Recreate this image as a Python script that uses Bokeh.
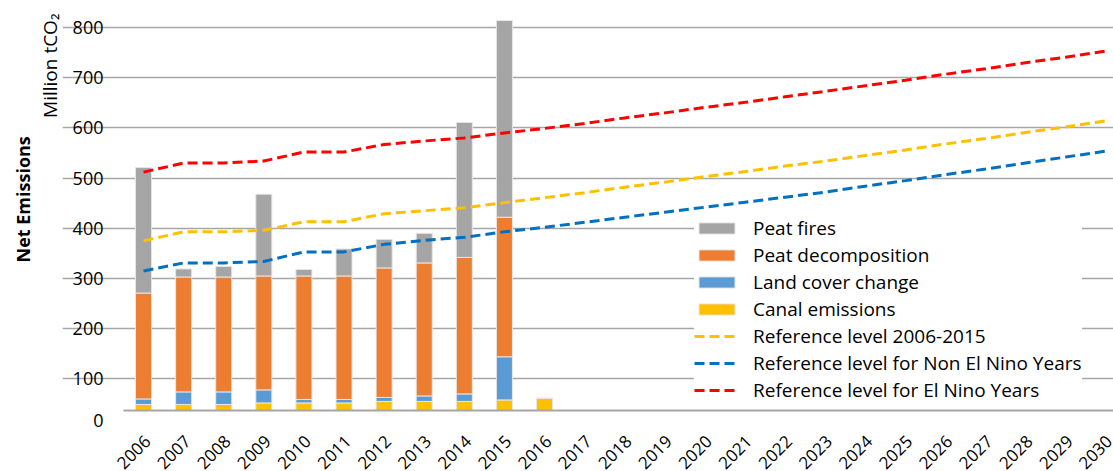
import math
from bokeh.plotting import figure
from bokeh.models import (FixedTicker, Legend, LegendItem, Range1d, Title,
                          ColumnDataSource, NumeralTickFormatter)
from bokeh.embed import file_html
from bokeh.resources import INLINE

# ---------------- data ----------------
bar_years = [2006, 2007, 2008, 2009, 2010, 2011, 2012, 2013, 2014, 2015, 2016]
canal_emissions = [49, 49, 49, 52, 52, 52, 55, 55, 55, 58, 61]
land_cover_change = [11, 25, 25, 26, 7, 7, 8, 11, 15, 86, 0]
peat_decomposition = [211, 229, 229, 227, 246, 246, 258, 265, 272, 278, 0]
peat_fires = [250, 16, 21, 163, 13, 54, 57, 59, 269, 392, 0]

line_years = [2006, 2007, 2008, 2009, 2010, 2011, 2012, 2013, 2014, 2015,
              2016, 2017, 2018, 2019, 2020, 2021, 2022, 2023, 2024, 2025,
              2026, 2027, 2028, 2029, 2030]
ref_2006_2015 = [375, 393, 393, 396, 413, 413, 429, 435, 441, 451,
                 461, 471, 482, 492, 503, 513, 524, 534, 545, 556,
                 568, 579, 591, 602, 614]
ref_non_el_nino = [315, 331, 331, 334, 353, 353, 368, 376, 382, 393,
                   402, 412, 422, 432, 442, 452, 462, 472, 484, 495,
                   507, 518, 530, 542, 554]
ref_el_nino = [512, 530, 530, 534, 552, 552, 567, 574, 580, 590,
               599, 609, 620, 630, 641, 651, 662, 673, 684, 695,
               707, 718, 730, 741, 753]

axis_base = 37          # value where the category axis sits
zero_tick = 18          # where the "0" label is printed
y_ticks = [100, 200, 300, 400, 500, 600, 700, 800]
x_start, x_end = 2005.5, 2030.19
label_shift = 0.1       # nudge of the rotated year labels

FONT = "Open Sans"
GRID = "#A6A6A6"

p = figure(width=1113, height=471, output_backend="svg", toolbar_location=None,
           x_range=Range1d(2003.979, x_end), y_range=Range1d(-84.6, 830),
           min_border_left=62, min_border_right=0, min_border_top=12,
           min_border_bottom=0)
p.outline_line_color = None
p.background_fill_color = "white"

# stacked bars (segments start at the axis baseline)
series = [canal_emissions, land_cover_change, peat_decomposition, peat_fires]
colors = ["#FFC000", "#5B9BD5", "#ED7D31", "#A5A5A5"]
cum = [0.0] * len(bar_years)
bar_renderers = []
for vals, col in zip(series, colors):
    bottoms = [max(c, axis_base) for c in cum]
    cum = [c + v for c, v in zip(cum, vals)]
    tops = [max(c, axis_base) for c in cum]
    src = ColumnDataSource(dict(x=bar_years, bottom=bottoms, top=tops))
    r = p.vbar(x="x", width=0.4, bottom="bottom", top="top", source=src,
               fill_color=col, line_color="#E6E6E6", line_width=1)
    bar_renderers.append(r)

l_all = p.line(line_years, ref_2006_2015, line_color="#FFC000", line_width=3,
               line_dash="10 5")
l_non = p.line(line_years, ref_non_el_nino, line_color="#0070C0", line_width=3,
               line_dash="10 5")
l_el = p.line(line_years, ref_el_nino, line_color="#FF0000", line_width=3,
              line_dash="10 5")

# y axis (drawn at the left edge of the plotting area)
p.yaxis.fixed_location = x_start
p.yaxis.ticker = FixedTicker(ticks=[zero_tick] + y_ticks)
p.yaxis.major_label_overrides = {zero_tick: "0"}
p.ygrid.ticker = FixedTicker(ticks=y_ticks)
p.ygrid.bounds = (x_start, x_end)
p.ygrid.grid_line_color = GRID
p.ygrid.grid_line_width = 1.5
p.xgrid.grid_line_color = None
p.yaxis.axis_line_color = None
p.yaxis.major_tick_line_color = None
p.yaxis.minor_tick_line_color = None
p.yaxis.major_label_standoff = 14
p.yaxis.major_label_text_font = FONT
p.yaxis.major_label_text_font_size = "18px"
p.yaxis.major_label_text_color = "black"

# x axis sits on the baseline
p.xaxis.fixed_location = axis_base
p.xaxis.bounds = (x_start, x_end)
p.xaxis.ticker = FixedTicker(ticks=[y + label_shift for y in line_years])
p.xaxis.formatter = NumeralTickFormatter(format="0")
p.xaxis.major_label_orientation = math.pi / 4
p.xaxis.axis_line_color = GRID
p.xaxis.axis_line_width = 2
p.xaxis.major_tick_line_color = None
p.xaxis.minor_tick_line_color = None
p.xaxis.major_label_standoff = 22
p.xaxis.major_label_text_font = FONT
p.xaxis.major_label_text_font_size = "17px"
p.xaxis.major_label_text_color = "black"

# axis titles
p.add_layout(Title(text="Million tCO₂", align="right", offset=1,
                   vertical_align="bottom", standoff=0, text_font=FONT,
                   text_font_size="19px", text_font_style="normal",
                   text_color="black"), "left")
p.add_layout(Title(text="Net Emissions", align="left", offset=209,
                   vertical_align="bottom", standoff=0, text_font=FONT,
                   text_font_size="18px", text_font_style="bold",
                   text_color="black"), "left")

legend = Legend(items=[
    LegendItem(label="Peat fires", renderers=[bar_renderers[3]]),
    LegendItem(label="Peat decomposition", renderers=[bar_renderers[2]]),
    LegendItem(label="Land cover change", renderers=[bar_renderers[1]]),
    LegendItem(label="Canal emissions", renderers=[bar_renderers[0]]),
    LegendItem(label="Reference level 2006-2015", renderers=[l_all]),
    LegendItem(label="Reference level for Non El Nino Years", renderers=[l_non]),
    LegendItem(label="Reference level for El Nino Years", renderers=[l_el]),
], location=(632, 68), padding=4, spacing=1, margin=0,
    glyph_width=45, glyph_height=14, label_standoff=14,
    label_text_font=FONT, label_text_font_size="19px",
    label_text_color="black", border_line_color=None,
    background_fill_color="white", background_fill_alpha=1.0)
p.add_layout(legend)

open("out.html", "w").write(file_html(p, INLINE))
